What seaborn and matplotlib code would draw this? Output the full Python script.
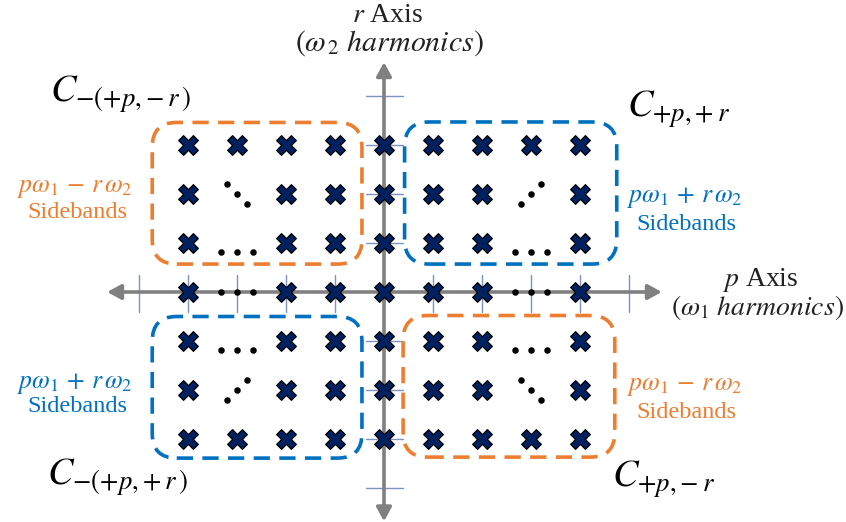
import matplotlib
matplotlib.use("Agg")
import matplotlib.pyplot as plt
from matplotlib.patches import FancyBboxPatch
import seaborn as sns
import pandas as pd

sns.set_theme(style="white")
plt.rcParams["font.family"] = ["Liberation Serif", "DejaVu Serif"]
plt.rcParams["mathtext.fontset"] = "stix"
SERIF = ["Liberation Serif", "DejaVu Serif"]

# Harmonic grid: p = omega_1 harmonic index, r = omega_2 harmonic index
marker_p = [-4, -3, -2, -1, 0, 1, 2, 3, 4,
            -4, -2, -1, 0, 1, 2, 4,
            -4, -2, -1, 0, 1, 2, 4,
            -4, -2, -1, 0, 1, 2, 4,
            -4, -2, -1, 0, 1, 2, 4,
            -4, -2, -1, 0, 1, 2, 4,
            -4, -3, -2, -1, 0, 1, 2, 3, 4]
marker_r = [3] * 9 + [2] * 7 + [1] * 7 + [0] * 7 + [-1] * 7 + [-2] * 7 + [-3] * 9

# Ellipsis positions (omitted harmonics) and their direction
ellipsis_p = [-3, 3, -3, 3, -3, 3, -3, 3, -3, 3]
ellipsis_r = [0, 0, 1, 1, -1, -1, 2, 2, -2, -2]
ellipsis_kind = ["h", "h", "h", "h", "h", "h", "down", "up", "up", "down"]

# Axis tick indices
p_ticks = [-5, -4, -3, -2, -1, 1, 2, 3, 4, 5]
r_ticks = [-4, -3, -2, -1, 1, 2, 3, 4]

# Sideband regions: (p_min, p_max, r_min, r_max, colour)
ORANGE = "#ED7D31"
BLUE = "#0070C0"
regions = [(-4.73, -0.45, 0.57, 3.46, ORANGE),
           (0.42, 4.75, 0.57, 3.47, BLUE),
           (-4.73, -0.45, -3.39, -0.50, BLUE),
           (0.39, 4.71, -3.37, -0.48, ORANGE)]

W, H = 846, 522
UNIT = 49.0
X0, Y0 = 384.0, 292.0

fig = plt.figure(figsize=(W / 100, H / 100), dpi=100)
ax = fig.add_axes([0, 0, 1, 1])
ax.set_xlim(-X0 / UNIT, (W - X0) / UNIT)
ax.set_ylim((Y0 - H) / UNIT, Y0 / UNIT)
ax.set_axis_off()

# Tick marks on both axes
tick_col = "#7F93C2"
for p in p_ticks:
    ax.plot([p, p], [-0.40, 0.34], color=tick_col, lw=1.0, zorder=1)
for r in r_ticks:
    ax.plot([-0.36, 0.38], [r, r], color=tick_col, lw=1.0, zorder=1)

# Double-headed axes
axis_col = "#808080"
arrow = dict(arrowstyle="<|-|>,head_length=0.55,head_width=0.3",
             color=axis_col, lw=2.6, shrinkA=0, shrinkB=0, mutation_scale=15)
ax.annotate("", xy=(5.67, 0), xytext=(-5.65, 0), arrowprops=arrow, zorder=2)
ax.annotate("", xy=(0, 4.69), xytext=(0, -4.68), arrowprops=arrow, zorder=2)

# Dashed rounded boxes around the sideband clusters
for p0, p1, r0, r1, col in regions:
    box = FancyBboxPatch((p0, r0), p1 - p0, r1 - r0,
                         boxstyle="round,pad=0,rounding_size=0.5",
                         fill=False, edgecolor=col, lw=2.6,
                         linestyle=(0, (4.5, 2.6)), zorder=3)
    ax.add_patch(box)

# Harmonic markers
grid = pd.DataFrame({"p": marker_p, "r": marker_r})
sns.scatterplot(data=grid, x="p", y="r", marker="X", s=200, color="#002060",
                edgecolor="black", linewidth=0.9, ax=ax, zorder=5, legend=False)

# Ellipsis dots
dot_p, dot_r = [], []
for p, r, kind in zip(ellipsis_p, ellipsis_r, ellipsis_kind):
    if kind == "h":
        off = 0.0 if r == 0 else -0.18
        for d in (-0.33, 0.0, 0.33):
            dot_p.append(p + d)
            dot_r.append(r + off)
    else:
        sgn = 1 if kind == "up" else -1
        for d in (-0.21, 0.0, 0.21):
            dot_p.append(p + d)
            dot_r.append(r + sgn * d)
dots = pd.DataFrame({"p": dot_p, "r": dot_r})
sns.scatterplot(data=dots, x="p", y="r", marker="o", s=22, color="black",
                edgecolor="black", linewidth=0, ax=ax, zorder=5, legend=False)


def put(x, y, s, **kw):
    ax.text(x / W, 1 - y / H, s, transform=ax.transAxes, family=SERIF, **kw)


# Axis titles
put(388, 15, r"$r$ Axis", fontsize=20, ha="center", va="center", color="#222222")
put(389, 43, r"$(\omega_{\,2}\ harmonics)$", fontsize=21.5, ha="center", va="center", color="#222222")
put(760, 280, r"$p$ Axis", fontsize=20, ha="center", va="center", color="#222222")
put(757, 307, r"$(\omega_1\ harmonics)$", fontsize=20, ha="center", va="center", color="#222222")

# Quadrant labels
put(50, 102, r"$C_{-(+p{,}-r\,)}$", fontsize=27.5, ha="left", va="baseline", color="black")
put(627, 117, r"$C_{+p{,}+r}$", fontsize=27.5, ha="left", va="baseline", color="black")
put(47, 485, r"$C_{-(+p{,}+r\,)}$", fontsize=27.5, ha="left", va="baseline", color="black")
put(612, 487, r"$C_{+p{,}-r}$", fontsize=27.5, ha="left", va="baseline", color="black")

# Sideband annotations
minus = r"$p\omega_1 \,-\, r\,\omega_2$"
plus = r"$p\omega_1 \,+\, r\,\omega_2$"
put(75, 189, minus, fontsize=18.5, ha="center", va="center", color=ORANGE)
put(77, 213, "Sidebands", fontsize=17.5, ha="center", va="center", color=ORANGE)
put(685, 197, plus, fontsize=18.5, ha="center", va="center", color=BLUE)
put(686, 225, "Sidebands", fontsize=17.5, ha="center", va="center", color=BLUE)
put(75, 384, plus, fontsize=18.5, ha="center", va="center", color=BLUE)
put(77, 407, "Sidebands", fontsize=17.5, ha="center", va="center", color=BLUE)
put(685, 387, minus, fontsize=18.5, ha="center", va="center", color=ORANGE)
put(686, 412, "Sidebands", fontsize=17.5, ha="center", va="center", color=ORANGE)

fig.savefig("out.png", dpi=100, facecolor="white")
